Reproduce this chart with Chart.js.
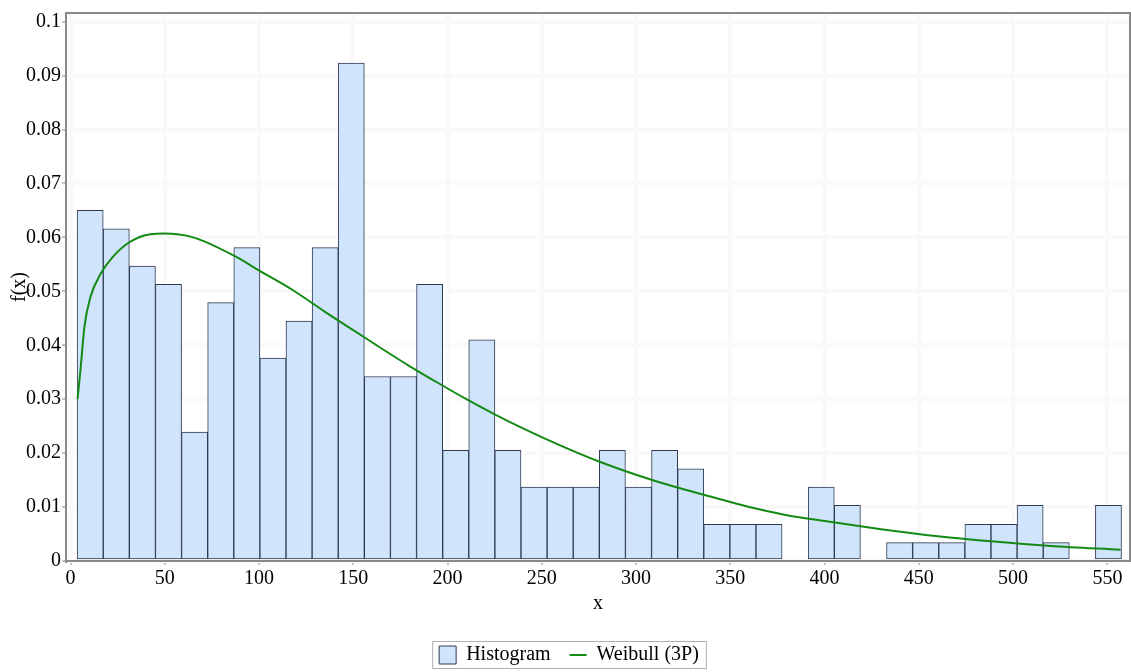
<!DOCTYPE html>
<html>
<head>
<meta charset="utf-8">
<script src="https://cdn.jsdelivr.net/npm/chart.js@4.4.0/dist/chart.umd.min.js"></script>
<style>
  html, body { margin: 0; padding: 0; background: #fff; }
</style>
</head>
<body>
<canvas id="chart" width="1131" height="672"></canvas>
<script>
// histogram bins (edges) and densities
const binEdges = [3.5, 17.35, 31.2, 45.05, 58.9, 72.75, 86.6, 100.45, 114.3, 128.15, 142.0,
  155.85, 169.7, 183.55, 197.4, 211.25, 225.1, 238.95, 252.8, 266.65, 280.5,
  294.35, 308.2, 322.05, 335.9, 349.75, 363.6, 377.45, 391.3, 405.15, 419.0,
  432.85, 446.7, 460.55, 474.4, 488.25, 502.1, 515.95, 529.8, 543.65, 557.5];
const histValues = [0.0650, 0.0616, 0.0547, 0.0513, 0.0239, 0.0479, 0.0581, 0.0376, 0.0445, 0.0581,
  0.0923, 0.0342, 0.0342, 0.0513, 0.0205, 0.0410, 0.0205, 0.0137, 0.0137, 0.0137,
  0.0205, 0.0137, 0.0205, 0.0171, 0.0068, 0.0068, 0.0068, 0, 0.0137, 0.0103,
  0, 0.0034, 0.0034, 0.0034, 0.0068, 0.0068, 0.0103, 0.0034, 0, 0.0103];

// fitted Weibull (3P) curve
const curveX = [3.7, 5.3, 7.4, 10.6, 15.9, 22, 30.8, 42.4, 49.5, 65, 86.7, 100.8, 118, 135,
  150, 165, 180, 195, 210, 225, 240, 260, 280, 300, 320, 340, 360, 380, 400,
  430, 460, 490, 520, 557];
const curveY = [0.030, 0.0355, 0.0435, 0.049, 0.0532, 0.0562, 0.059, 0.0606, 0.0607, 0.0600,
  0.0566, 0.0537, 0.0502, 0.0462, 0.0428, 0.0394, 0.0361, 0.0330, 0.0300, 0.0272,
  0.0246, 0.0214, 0.0185, 0.0160, 0.0138, 0.0119, 0.0100, 0.0085, 0.0074,
  0.0059, 0.0046, 0.0036, 0.0028, 0.0021];

const xTicks = [0, 50, 100, 150, 200, 250, 300, 350, 400, 450, 500, 550];
const yTicks = [0, 0.01, 0.02, 0.03, 0.04, 0.05, 0.06, 0.07, 0.08, 0.09, 0.1];
const yTickLabels = ['0', '0.01', '0.02', '0.03', '0.04', '0.05', '0.06', '0.07', '0.08', '0.09', '0.1'];

const histData = histValues.map((v, i) => ({ x: (binEdges[i] + binEdges[i + 1]) / 2, y: v }));
const curveData = curveX.map((x, i) => ({ x: x, y: curveY[i] }));

Chart.defaults.font.family = '"Liberation Serif", "Times New Roman", serif';
Chart.defaults.font.size = 20;
Chart.defaults.color = '#000';

// grey frame round the plot and round the legend
const framePlugin = {
  id: 'frame',
  afterDraw(chart) {
    const ctx = chart.ctx;
    const a = chart.chartArea;
    ctx.save();
    ctx.strokeStyle = '#8a8a8a';
    ctx.lineWidth = 2;
    ctx.strokeRect(a.left, a.top, a.right - a.left, a.bottom - a.top);
    const boxes = chart.legend.legendHitBoxes;
    if (boxes && boxes.length) {
      let l = Infinity, r = -Infinity, t = Infinity, b = -Infinity;
      boxes.forEach(h => {
        l = Math.min(l, h.left); r = Math.max(r, h.left + h.width);
        t = Math.min(t, h.top); b = Math.max(b, h.top + h.height);
      });
      ctx.strokeStyle = '#b0b0b0';
      ctx.lineWidth = 1;
      ctx.strokeRect(l - 6.5, t - 3.5, r - l + 14, b - t + 7);
    }
    ctx.restore();
  }
};

const gridOpts = { color: '#f9f9f9', lineWidth: 4, offset: false, tickColor: '#8a8a8a', tickWidth: 1, tickLength: 4 };

new Chart(document.getElementById('chart'), {
  type: 'bar',
  data: {
    datasets: [
      {
        type: 'bar',
        label: 'Histogram',
        data: histData,
        backgroundColor: '#d0e4fc',
        borderColor: '#2e3a52',
        borderWidth: 1,
        borderSkipped: false,
        barPercentage: 1,
        categoryPercentage: 1,
        pointStyle: 'rect',
        order: 2
      },
      {
        type: 'line',
        label: 'Weibull (3P)',
        data: curveData,
        borderColor: '#138a13',
        backgroundColor: '#138a13',
        borderWidth: 2,
        pointRadius: 0,
        cubicInterpolationMode: 'monotone',
        pointStyle: 'line',
        order: 1
      }
    ]
  },
  options: {
    responsive: false,
    animation: false,
    layout: { padding: { left: 8, top: 6, right: 1, bottom: -3 } },
    plugins: {
      tooltip: { enabled: false },
      legend: {
        position: 'bottom',
        labels: {
          usePointStyle: true,
          pointStyleWidth: 17,
          boxHeight: 18,
          padding: 19,
          color: '#000',
          font: { size: 20 },
          sort: (a, b) => a.datasetIndex - b.datasetIndex
        }
      }
    },
    scales: {
      x: {
        type: 'linear',
        offset: false,
        min: -2.4,
        max: 562,
        afterBuildTicks: s => { s.ticks = xTicks.map(v => ({ value: v })); },
        afterFit: s => { s.height = 65; },
        ticks: { padding: 2, maxRotation: 0, autoSkip: false },
        grid: gridOpts,
        border: { color: '#8a8a8a', width: 2 },
        title: { display: true, text: 'x', padding: { top: 0, bottom: 10.5 } }
      },
      y: {
        min: 0,
        max: 0.1016,
        afterBuildTicks: s => { s.ticks = yTicks.map(v => ({ value: v })); },
        afterFit: s => { s.width = 58; },
        ticks: {
          padding: 1,
          autoSkip: false,
          callback: (v, i) => yTickLabels[i]
        },
        grid: gridOpts,
        border: { color: '#8a8a8a', width: 2 },
        title: { display: true, text: 'f(x)', padding: 0 }
      }
    }
  },
  plugins: [framePlugin]
});
</script>
</body>
</html>
